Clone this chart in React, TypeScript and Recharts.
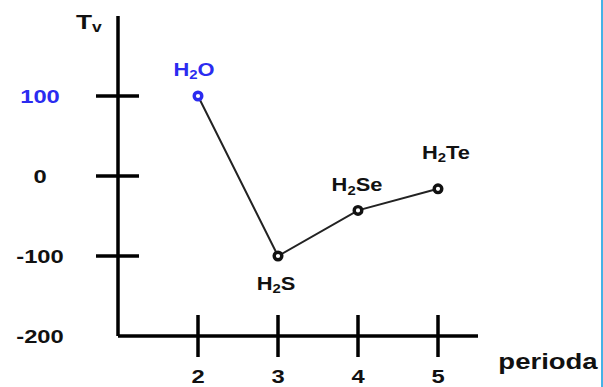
import React from 'react';
import { LineChart, Line, XAxis, YAxis } from 'recharts';

// titik didih hidrida golongan VIA per periode
const periods = [2, 3, 4, 5];
const compounds = ['H2O', 'H2S', 'H2Se', 'H2Te'];
const boilingPoints = [100, -100, -43, -16];
const yTicks = [-200, -100, 0, 100];

const data = periods.map((p, i) => ({ periode: p, nama: compounds[i], tv: boilingPoints[i] }));

const FONT = '"Liberation Sans", Arial, sans-serif';
const BLUE = '#2b2bf0';
const INK = '#111';
const STRETCH = 1.25;

const CHART_W = 601;
const CHART_H = 387;
const AXIS_LEFT = 118;
const AXIS_BOTTOM = 336;

// posisi label senyawa relatif terhadap titik
const labelPlacement: Record<string, { dx: number; dy: number }> = {
    H2O: { dx: -4, dy: -20 },
    H2S: { dx: -2, dy: 34 },
    H2Se: { dx: -1, dy: -19 },
    H2Te: { dx: 8, dy: -30 },
};

// teks tebal yang sedikit dilebarkan
const WideText = ({ x, y, size, fill = INK, anchor = 'middle', children }: any) => (
    <text
        transform={`translate(${x},${y}) scale(${STRETCH},1)`}
        textAnchor={anchor}
        fontFamily={FONT}
        fontWeight="bold"
        fontSize={size}
        fill={fill}
    >
        {children}
    </text>
);

// rumus kimia dengan angka 2 sebagai subskrip
const Formula = ({ name, size }: { name: string; size: number }) => (
    <>
        <tspan>H</tspan>
        <tspan fontSize={size * 0.68} dy={size * 0.18}>2</tspan>
        <tspan dy={-size * 0.18}>{name.slice(2)}</tspan>
    </>
);

const YTick = ({ y, payload }: any) => {
    const v = payload.value;
    return (
        <g>
            {v !== -200 && (
                <line x1={AXIS_LEFT - 22} x2={AXIS_LEFT + 21} y1={y} y2={y} stroke="#000" strokeWidth={3.5} />
            )}
            <WideText x={40} y={y + 7} size={19} fill={v === 100 ? BLUE : INK}>{v}</WideText>
        </g>
    );
};

const XTick = ({ x, payload }: any) => (
    <g>
        <line x1={x} x2={x} y1={AXIS_BOTTOM - 21} y2={AXIS_BOTTOM + 21} stroke="#000" strokeWidth={3.5} />
        <WideText x={x} y={383} size={19}>{payload.value}</WideText>
    </g>
);

const PointDot = ({ cx, cy, index, payload }: any) => {
    const color = index === 0 ? BLUE : '#111';
    const place = labelPlacement[payload.nama];
    return (
        <g key={`dot-${index}`}>
            <circle cx={cx} cy={cy} r={3.8} fill="#fff" stroke={color} strokeWidth={3.4} />
            <WideText x={cx + place.dx} y={cy + place.dy} size={17.5} fill={index === 0 ? BLUE : INK}>
                <Formula name={payload.nama} size={17.5} />
            </WideText>
        </g>
    );
};

const YTitle = () => (
    <WideText x={76} y={29} size={21} anchor="start">
        T<tspan fontSize={14} dy={3}>v</tspan>
    </WideText>
);

const XTitle = () => (
    <WideText x={548} y={369} size={22}>perioda</WideText>
);

export default function App() {
    return (
        <div
            style={{
                position: 'fixed',
                left: 0,
                top: 0,
                width: CHART_W,
                height: CHART_H,
                borderRight: '2px solid #45b2e6',
                background: '#fff',
            }}
        >
            <LineChart width={CHART_W} height={CHART_H} data={data} margin={{ top: 16, right: 123, bottom: 0, left: 0 }}>
                <XAxis
                    dataKey="periode"
                    type="number"
                    domain={[1, 5.5]}
                    ticks={periods}
                    height={51}
                    axisLine={{ stroke: '#000', strokeWidth: 3.5 }}
                    tickLine={false}
                    tick={<XTick />}
                    label={<XTitle />}
                />
                <YAxis
                    type="number"
                    domain={[-200, 200]}
                    ticks={yTicks}
                    width={118}
                    axisLine={{ stroke: '#000', strokeWidth: 3.5 }}
                    tickLine={false}
                    tick={<YTick />}
                    label={<YTitle />}
                />
                <Line
                    type="linear"
                    dataKey="tv"
                    stroke="#222"
                    strokeWidth={2}
                    dot={<PointDot />}
                    activeDot={false}
                    isAnimationActive={false}
                />
            </LineChart>
        </div>
    );
}
